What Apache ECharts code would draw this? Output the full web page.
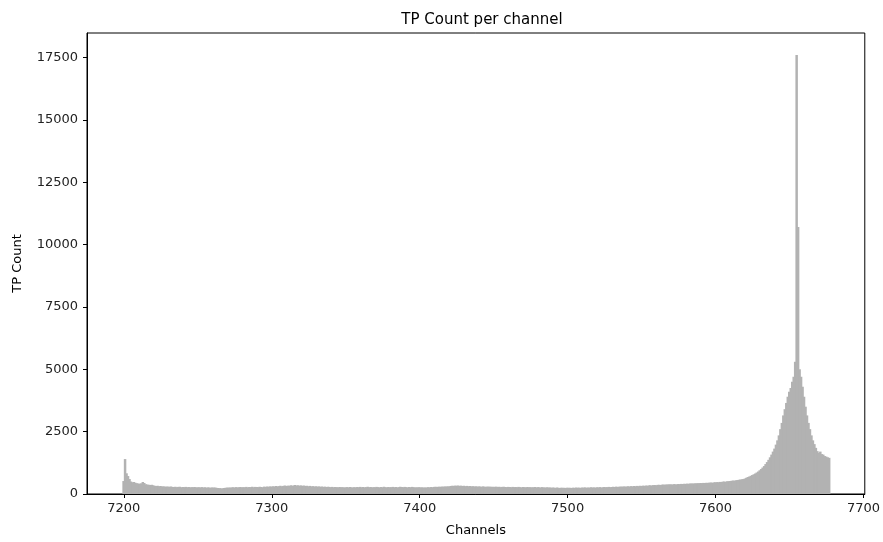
<!DOCTYPE html>
<html>
<head>
<meta charset="utf-8">
<script src="https://cdn.jsdelivr.net/npm/echarts@6/dist/echarts.min.js"></script>
<style>
html,body{margin:0;padding:0;background:#fff;}
#chart{width:883px;height:542px;}
</style>
</head>
<body>
<div id="chart"></div>
<script>
// First channel of the histogram (one bin per channel)
const firstChannel = 7199;

// Counts per channel, 7199 - 7249
const countsA = [520, 1400, 830, 720, 600, 500, 470, 480, 450, 430,
  420, 410, 430, 480, 440, 390, 380, 370, 360, 370,
  350, 330, 320, 330, 310, 320, 300, 310, 290, 300,
  295, 290, 300, 285, 280, 290, 275, 285, 290, 270,
  280, 275, 285, 270, 280, 265, 275, 270, 280, 265,
  270];
// 7250 - 7349
const countsB = [270, 265, 275, 260, 270, 255, 265, 260, 250, 265,
  255, 260, 245, 240, 235, 225, 230, 240, 250, 255,
  260, 255, 265, 270, 260, 275, 265, 270, 280, 265,
  275, 270, 285, 265, 280, 275, 290, 270, 285, 280,
  275, 290, 280, 270, 295, 285, 300, 290, 305, 295,
  310, 300, 320, 305, 315, 330, 310, 325, 340, 320,
  335, 325, 350, 330, 345, 360, 335, 350, 330, 345,
  325, 340, 320, 330, 310, 325, 305, 315, 300, 310,
  295, 305, 290, 300, 285, 295, 280, 290, 285, 275,
  285, 270, 280, 275, 265, 280, 270, 275, 260, 270];
// 7350 - 7449
const countsC = [275, 265, 280, 270, 260, 275, 265, 280, 270, 285,
  270, 280, 265, 275, 290, 270, 280, 265, 275, 270,
  285, 275, 265, 280, 270, 290, 275, 265, 280, 270,
  275, 285, 270, 280, 265, 275, 290, 280, 270, 285,
  275, 265, 280, 270, 285, 275, 260, 270, 265, 275,
  260, 270, 255, 265, 260, 275, 265, 280, 270, 285,
  290, 280, 295, 285, 300, 290, 305, 295, 310, 300,
  320, 330, 325, 335, 330, 340, 325, 335, 320, 330,
  315, 325, 310, 320, 305, 315, 300, 310, 295, 305,
  300, 290, 305, 295, 285, 300, 290, 295, 285, 290];
// 7450 - 7549
const countsD = [285, 295, 280, 290, 275, 285, 290, 280, 275, 285,
  280, 270, 285, 275, 280, 270, 285, 275, 265, 280,
  275, 265, 280, 270, 275, 265, 270, 280, 265, 275,
  270, 260, 275, 265, 255, 270, 260, 265, 250, 260,
  255, 245, 260, 250, 240, 255, 245, 250, 240, 255,
  245, 250, 240, 255, 245, 260, 250, 255, 245, 260,
  255, 265, 250, 260, 255, 270, 260, 265, 255, 270,
  265, 275, 260, 270, 280, 270, 275, 285, 275, 280,
  290, 280, 295, 285, 290, 300, 290, 305, 295, 300,
  310, 300, 315, 305, 320, 310, 325, 315, 330, 320];
// 7550 - 7676
const countsE = [335, 325, 340, 330, 345, 350, 340, 355, 360, 350,
  365, 370, 360, 375, 380, 370, 385, 380, 390, 385,
  380, 395, 390, 385, 400, 395, 405, 400, 410, 405,
  415, 410, 420, 425, 415, 430, 425, 435, 430, 440,
  435, 445, 440, 450, 445, 455, 460, 450, 465, 470,
  475, 470, 485, 480, 495, 500, 490, 510, 515, 520,
  530, 540, 535, 550, 560, 570, 580, 590, 600, 620,
  650, 680, 700, 730, 760, 790, 820, 860, 900, 950,
  1000, 1060, 1120, 1200, 1280, 1370, 1470, 1580, 1700, 1820,
  1980, 2150, 2350, 2600, 2850, 3150, 3400, 3650, 3900, 4100,
  4250, 4500, 4700, 5300, 17600, 10700, 5000, 4700, 4300, 3900,
  3500, 3150, 2850, 2600, 2350, 2150, 2000, 1850, 1720, 1650,
  1700, 1600, 1580, 1520, 1500, 1470, 1450];

const xTicks = [7200, 7300, 7400, 7500, 7600, 7700];
const yTicks = [0, 2500, 5000, 7500, 10000, 12500, 15000, 17500];

const counts = countsA.concat(countsB, countsC, countsD, countsE);
const bins = counts.map((c, i) => [firstChannel + i, c]);

const chart = echarts.init(document.getElementById('chart'), null, {renderer: 'canvas'});
const font = 'DejaVu Sans';
const plain = v => String(v);
chart.setOption({
  animation: false,
  backgroundColor: '#ffffff',
  title: {
    text: 'TP Count per channel',
    left: 477, top: 8, textAlign: 'center',
    textStyle: {fontFamily: font, fontSize: 15, fontWeight: 'normal', color: '#000'}
  },
  grid: {left: 87, right: 16, top: 33, bottom: 44, show: true, borderColor: '#000', borderWidth: 1, backgroundColor: 'transparent'},
  xAxis: {
    type: 'value', min: 7175.1, max: 7700.9,
    name: 'Channels', nameLocation: 'middle', nameGap: 30,
    nameTextStyle: {fontFamily: font, fontSize: 13, color: '#000'},
    axisLine: {show: true, lineStyle: {color: '#000', width: 1}},
    axisTick: {show: true, length: 4, lineStyle: {color: '#000'}, customValues: xTicks},
    axisLabel: {fontFamily: font, fontSize: 13, color: '#222', margin: 8, customValues: xTicks, formatter: plain},
    splitLine: {show: false}
  },
  yAxis: {
    type: 'value', min: 0, max: 18480,
    name: 'TP Count', nameLocation: 'middle', nameGap: 63,
    nameTextStyle: {fontFamily: font, fontSize: 13, color: '#000'},
    axisLine: {show: true, lineStyle: {color: '#000', width: 1}},
    axisTick: {show: true, length: 4, lineStyle: {color: '#000'}, customValues: yTicks},
    axisLabel: {fontFamily: font, fontSize: 13, color: '#222', margin: 9, customValues: yTicks, formatter: plain},
    splitLine: {show: false}
  },
  series: [{
    type: 'custom',
    data: bins,
    z: 1,
    renderItem: function (params, api) {
      const ch = api.value(0), v = api.value(1);
      const p0 = api.coord([ch, v]);
      const p1 = api.coord([ch + 1, 0]);
      return {
        type: 'rect',
        shape: {x: p0[0], y: p0[1], width: p1[0] - p0[0] + 1, height: p1[1] - p0[1]},
        style: {fill: '#b2b2b2', stroke: null}
      };
    }
  }]
});
</script>
</body>
</html>
